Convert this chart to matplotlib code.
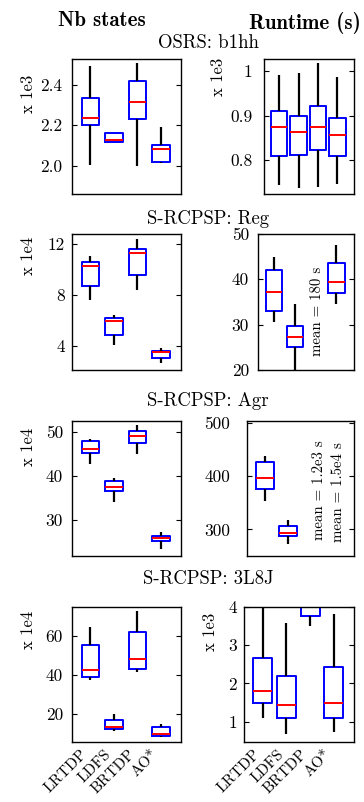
import matplotlib
matplotlib.use("Agg")
import matplotlib.pyplot as plt

plt.rcParams["font.family"] = ["cmr10", "DejaVu Serif"]
plt.rcParams["axes.formatter.use_mathtext"] = True

algorithms = ["LRTDP", "LDFS", "BRTDP", "AO*"]

# each entry: [whisker low, q1, median, q3, whisker high]; None = no box
b1hh_states = [[2.002, 2.200, 2.236, 2.334, 2.491],
               [2.117, 2.117, 2.125, 2.161, 2.161],
               [1.998, 2.229, 2.315, 2.417, 2.506],
               [2.011, 2.017, 2.080, 2.100, 2.190]]
b1hh_runtime = [[0.744, 0.8096, 0.8756, 0.910, 0.992],
                [0.737, 0.8127, 0.8635, 0.900, 0.9955],
                [0.740, 0.824, 0.8756, 0.921, 1.017],
                [0.746, 0.8096, 0.857, 0.894, 0.986]]
reg_states = [[7.63, 8.73, 10.25, 10.56, 11.06],
              [4.10, 4.89, 5.98, 6.19, 6.45],
              [8.39, 9.59, 11.32, 11.61, 12.39],
              [2.65, 3.09, 3.51, 3.64, 3.82]]
reg_runtime = [[30.5, 33.1, 37.3, 42.1, 44.9],
               [19.0, 25.1, 27.3, 29.6, 34.6],
               None,
               [34.5, 37.0, 39.4, 43.7, 47.5]]
agr_states = [[42.6, 45.1, 46.1, 47.9, 48.4],
              [33.9, 36.5, 37.5, 38.7, 39.4],
              [45.0, 47.5, 48.9, 50.1, 51.4],
              [23.3, 25.2, 25.8, 26.4, 27.3]]
agr_runtime = [[353.4, 376.5, 397.0, 427.4, 438.6],
               [272.6, 288.1, 293.1, 306.2, 317.4],
               None,
               None]
l8j_states = [[37.2, 38.7, 42.3, 55.2, 64.6],
              [11.3, 12.3, 13.0, 16.6, 19.7],
              [41.4, 43.0, 48.0, 62.0, 72.4],
              [8.2, 8.7, 9.4, 13.2, 14.7]]
l8j_runtime = [[1.09, 1.50, 1.81, 2.66, 4.30],
               [0.69, 1.11, 1.45, 2.19, 3.57],
               [3.50, 3.76, 4.30, 4.60, 5.00],
               [0.73, 1.11, 1.50, 2.42, 3.82]]

reg_notes = ["mean = 180 s"]
agr_notes = ["mean = 1.2e3 s", "mean = 1.5e4 s"]

row_titles = ["OSRS: b1hh", "S-RCPSP: Reg", "S-RCPSP: Agr", "S-RCPSP: 3L8J"]
col_titles = ["Nb states", "Runtime (s)"]

W, H = 364, 802
fig = plt.figure(figsize=(W / 100, H / 100), dpi=100)


def add_ax(x0, x1, top, bottom):
    return fig.add_axes([x0 / W, 1 - bottom / H, (x1 - x0) / W, (bottom - top) / H])


def draw(ax, data, width, ylim, yticks, yticklabels, pad, xlabels=False):
    stats, pos = [], []
    for i, d in enumerate(data):
        if d is None:
            continue
        lo, q1, med, q3, hi = d
        stats.append(dict(whislo=lo, q1=q1, med=med, q3=q3, whishi=hi, fliers=[]))
        pos.append(i + 1)
    ax.bxp(stats, positions=pos, widths=width, showcaps=False, showfliers=False,
           boxprops=dict(color="#0000ff", linewidth=1.4),
           medianprops=dict(color="#ff0000", linewidth=1.4),
           whiskerprops=dict(color="black", linewidth=1.6, solid_capstyle="butt"),
           manage_ticks=False)
    ax.set_xlim(0.22, 4.85)
    ax.set_ylim(*ylim)
    ax.set_yticks(yticks)
    ax.set_yticklabels(yticklabels, fontsize=12.5)
    ax.tick_params(axis="y", direction="in", left=True, right=True, length=3.5, width=0.8, pad=pad)
    ax.set_xticks(range(1, 5))
    ax.tick_params(axis="x", length=0, pad=4)
    if xlabels:
        ax.set_xticklabels(algorithms, rotation=45, ha="right", va="top", fontsize=11)
    else:
        ax.set_xticklabels([])
    for s in ax.spines.values():
        s.set_linewidth(1.0)


# Row 1
a = add_ax(72, 181, 59, 194)
draw(a, b1hh_states, 0.75, (1.86, 2.527), [2.0, 2.2, 2.4], ["2.0", "2.2", "2.4"], 7)
a = add_ax(264, 354, 59, 194)
draw(a, b1hh_runtime, 0.85, (0.7245, 1.027), [0.8, 0.9, 1.0], ["0.8", "0.9", "1"], 8.5)

# Row 2
a = add_ax(72, 181, 234, 370)
draw(a, reg_states, 0.75, (2.12, 12.78), [4, 8, 12], ["4", "8", "12"], 5)
a = add_ax(258, 354, 234, 370)
draw(a, reg_runtime, 0.8, (20, 50), [20, 30, 40, 50], ["20", "30", "40", "50"], 6.5)
a.text(0.615, 0.434, reg_notes[0], transform=a.transAxes, rotation=90,
       ha="center", va="center", fontsize=10.7)

# Row 3
a = add_ax(72, 181, 421, 556)
draw(a, agr_states, 0.75, (21.75, 52.4), [30, 40, 50], ["30", "40", "50"], 6.5)
a = add_ax(247, 354, 421, 556)
draw(a, agr_runtime, 0.8, (250, 504), [300, 400, 500], ["300", "400", "500"], 12)
a.text(0.673, 0.489, agr_notes[0], transform=a.transAxes, rotation=90,
       ha="center", va="center", fontsize=10.7)
a.text(0.85, 0.474, agr_notes[1], transform=a.transAxes, rotation=90,
       ha="center", va="center", fontsize=10.7)

# Row 4
a = add_ax(72, 181, 607, 742)
draw(a, l8j_states, 0.75, (5.5, 74.7), [20, 40, 60], ["20", "40", "60"], 6.5, xlabels=True)
a = add_ax(244, 354, 607, 742)
draw(a, l8j_runtime, 0.8, (0.47, 4.0), [1, 2, 3, 4], ["1", "2", "3", "4"], 5, xlabels=True)

# Column titles
fig.text(102 / W, 1 - 20 / H, col_titles[0], family=["cmb10", "DejaVu Serif"],
         fontsize=15, ha="center", va="center")
fig.text(305 / W, 1 - 23 / H, col_titles[1], family=["cmb10", "DejaVu Serif"],
         fontsize=15, ha="center", va="center")

# Row titles
for t, y in zip(row_titles, [43, 219.5, 401, 579]):
    fig.text(208 / W, 1 - y / H, t, fontsize=13.5, ha="center", va="center")

# y-axis multipliers
for t, x, y in [("x 1e3", 28, 94), ("x 1e3", 218, 77),
                ("x 1e4", 28, 256), ("x 1e4", 28, 447),
                ("x 1e4", 28, 630), ("x 1e3", 210, 632)]:
    fig.text(x / W, 1 - y / H, t, fontsize=12, rotation=90, ha="center", va="center")

fig.savefig("out.png", dpi=100)
